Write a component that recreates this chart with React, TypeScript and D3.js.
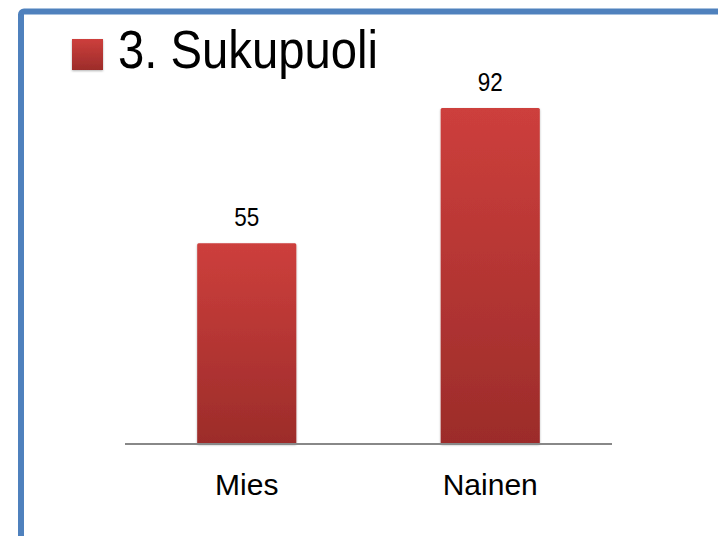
import React from "react";
import * as d3 from "d3";

const categories = ["Mies", "Nainen"];
const values = [55, 92];
const seriesName = "3. Sukupuoli";

const W = 718;
const H = 536;

export default function App() {
  const x = d3.scaleBand<string>().domain(categories).range([125, 612]).padding(0);
  const y = d3.scaleLinear().domain([0, 100]).range([444, 78.8]);
  const barW = x.bandwidth() * 0.407;
  const font = "'Liberation Sans', Arial, sans-serif";

  return (
    <svg
      width={W}
      height={H}
      style={{ position: "absolute", left: 0, top: 0, background: "#fff" }}
    >
      <defs>
        <linearGradient id="barGrad" x1="0" y1="0" x2="0" y2="1">
          <stop offset="0%" stopColor="#CD3F3C" />
          <stop offset="100%" stopColor="#9C2C2A" />
        </linearGradient>
        <filter id="shadow" x="-10%" y="-10%" width="120%" height="120%">
          <feDropShadow dx="0" dy="1" stdDeviation="1.2" floodColor="#000" floodOpacity="0.3" />
        </filter>
      </defs>

      {/* frame */}
      <rect
        x={21}
        y={11.5}
        width={760}
        height={600}
        rx={3}
        fill="none"
        stroke="#4F81BD"
        strokeWidth={6}
      />

      {/* legend */}
      <rect x={72} y={39} width={31} height={31} fill="url(#barGrad)" filter="url(#shadow)" />
      <text
        x={118}
        y={68}
        fontFamily={font}
        fontSize={53}
        fill="#000"
        textLength={260}
        lengthAdjust="spacingAndGlyphs"
      >
        {seriesName}
      </text>

      {/* bars */}
      {categories.map((c, i) => {
        const cx = (x(c) as number) + x.bandwidth() / 2;
        return (
          <g key={c}>
            <rect
              x={cx - barW / 2}
              y={y(values[i])}
              width={barW}
              height={y(0) - y(values[i])}
              rx={1.5}
              fill="url(#barGrad)"
              filter="url(#shadow)"
            />
            <text
              x={cx}
              y={y(values[i]) - 17}
              textAnchor="middle"
              fontFamily={font}
              fontSize={25}
              fill="#000"
              textLength={25}
              lengthAdjust="spacingAndGlyphs"
            >
              {values[i]}
            </text>
            <text
              x={cx}
              y={495}
              textAnchor="middle"
              fontFamily={font}
              fontSize={30}
              fill="#000"
            >
              {c}
            </text>
          </g>
        );
      })}

      {/* axis */}
      <line x1={125} x2={612} y1={444} y2={444} stroke="#888" strokeWidth={2} />
    </svg>
  );
}
